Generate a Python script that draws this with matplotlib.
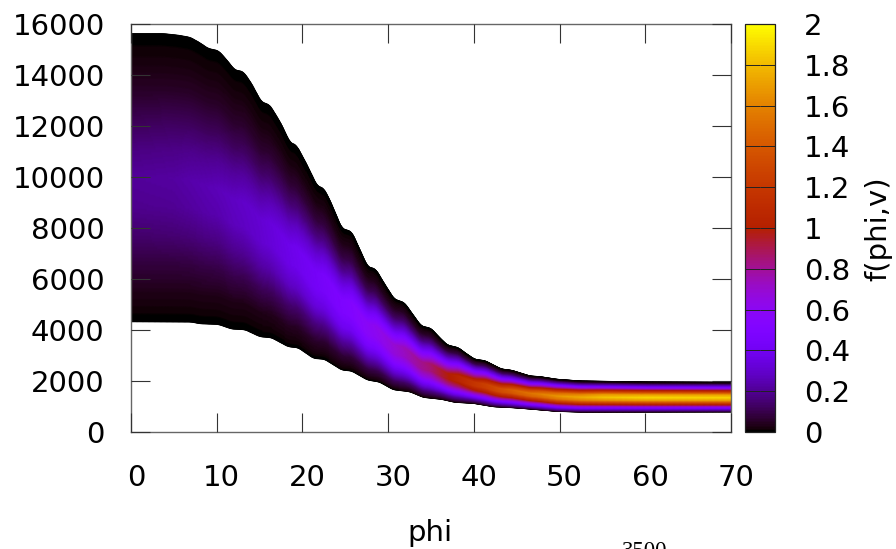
import numpy as np
import matplotlib
matplotlib.use("Agg")
import matplotlib.pyplot as plt
from matplotlib.transforms import ScaledTranslation
from matplotlib.cm import ScalarMappable
from matplotlib.colors import Normalize

upper_phi = [0,3.8,5.5,6.9,8,9,10.2,11,12.1,13.1,14,15.2,16.2,17.5,18.55,19.3,20.5,21.7,22.5,23.2,24.6,25.75,26.5,27.6,28.55,29.5,30.7,31.9,33,33.85,35,36,36.9,38.2,39,40.1,41.3,43.2,44.4,46.55,47.7,49.7,52.4,60.2,70]
upper_v = [15620,15620,15560,15475,15270,15040,14950,14660,14200,14130,13700,12950,12820,12100,11350,11250,10500,9660,9550,9100,7985,7855,7300,6485,6390,5850,5215,5070,4550,4157,4065,3700,3410,3305,3100,2850,2795,2470,2420,2196,2170,2066,2000,1960,1950]
lower_phi = [0,7.05,8.05,10.2,11.75,13.3,15.05,16.4,18.35,19.5,21.3,22.6,24.6,25.75,27.6,29,30.6,32.55,34.1,36.25,37.8,39.95,42.3,44.6,46.55,49.7,52.4,70]
lower_v = [4325,4314,4247,4220,4040,4013,3738,3698,3345,3305,2890,2850,2431,2392,2039,1960,1660,1580,1360,1282,1165,1125,992,953,902,810,784,790]

table_phi = [0,5,10,15,20,25,30,35,40,45,50,55,60,65,70]
table_t = [0,.1,.2,.3,.4,.5,.6,.7,.8,.9,1]
f_table = [
 [0,.03,.08,.14,.19,.21,.17,.11,.055,.02,0],
 [0,.03,.08,.15,.20,.22,.18,.12,.055,.02,0],
 [0,.03,.09,.17,.24,.26,.20,.12,.055,.02,0],
 [0,.03,.11,.22,.30,.31,.23,.13,.06,.02,0],
 [0,.05,.15,.30,.39,.40,.29,.16,.07,.02,0],
 [0,.07,.21,.39,.49,.50,.36,.20,.09,.03,0],
 [0,.11,.30,.50,.64,.66,.48,.27,.12,.04,0],
 [0,.17,.42,.68,.84,.86,.63,.39,.19,.06,0],
 [0,.24,.58,.95,1.18,1.18,.90,.60,.33,.11,0],
 [0,.30,.66,1.08,1.42,1.48,1.20,.78,.42,.15,0],
 [0,.30,.70,1.16,1.56,1.70,1.50,1.06,.62,.25,0],
 [0,.30,.70,1.20,1.66,1.84,1.68,1.20,.68,.27,0],
 [0,.30,.70,1.22,1.70,1.90,1.72,1.22,.68,.28,0],
 [0,.30,.70,1.22,1.70,1.90,1.72,1.22,.68,.28,0],
 [0,.30,.70,1.22,1.70,1.90,1.72,1.22,.68,.28,0],
]
x_ticks = [0,10,20,30,40,50,60,70]
y_ticks = [0,2000,4000,6000,8000,10000,12000,14000,16000]
c_ticks = [0,.2,.4,.6,.8,1,1.2,1.4,1.6,1.8,2]
c_labels = ["0","0.2","0.4","0.6","0.8","1","1.2","1.4","1.6","1.8","2"]

W, H = 896, 549
plt.rcParams['font.family'] = 'DejaVu Sans'
fig = plt.figure(figsize=(W/100, H/100), dpi=100)
def box(l, t, r, b):
    return [l/W, 1-b/H, (r-l)/W, (b-t)/H]
ax = fig.add_axes(box(131, 24, 731, 432))

# Render the hand-read table on a dense mesh between the band's edges
tab = np.array(f_table)
pf = np.linspace(0, 70, 701)
tf = np.linspace(0, 1, 161)
by_t = np.array([np.interp(pf, table_phi, tab[:, j]) for j in range(tab.shape[1])])
F = np.array([np.interp(tf, table_t, by_t[:, i]) for i in range(len(pf))]).T
def soften(a, n=3):
    # rounds the corners of the read-off edge polyline, as in the original's smooth outline
    return np.convolve(np.pad(a, n, mode='edge'), np.ones(2*n+1)/(2*n+1), mode='valid')
up = soften(np.interp(pf, upper_phi, upper_v))
lo = soften(np.interp(pf, lower_phi, lower_v))
X = np.tile(pf, (len(tf), 1))
Y = lo + np.outer(tf, up - lo)
norm = Normalize(0, 2)
ax.pcolormesh(X, Y, F, cmap='gnuplot', norm=norm, shading='gouraud', rasterized=True)

ax.set_xlim(0, 70)
ax.set_ylim(0, 16000)
ax.set_xticks(x_ticks)
ax.set_yticks(y_ticks)
ax.set_yticklabels([str(v) for v in y_ticks])
tl = 19*0.72
ax.tick_params(direction='in', length=tl, width=0.8, color='#333333', top=True, right=True,
               labelsize=21, labelcolor='black')
ax.tick_params(axis='x', pad=23)
ax.tick_params(axis='y', pad=19)
off = ScaledTranslation(5/100, 0, fig.dpi_scale_trans)
for lab in ax.get_xticklabels():
    lab.set_transform(lab.get_transform() + off)
for s in ax.spines.values():
    s.set_linewidth(1.0)
    s.set_color('#666666')
ax.set_axisbelow(False)

cax = fig.add_axes(box(745, 24, 775, 432))
cb = fig.colorbar(ScalarMappable(norm=norm, cmap='gnuplot'), cax=cax)
cb.set_ticks(c_ticks)
cb.set_ticklabels(c_labels)
cax.tick_params(direction='in', length=15*0.72, width=0.7, color='#222222', left=True, right=True,
                labelsize=21, pad=21)
cb.outline.set_linewidth(0.9)
cb.outline.set_edgecolor('#222222')

fig.text(430/W, 1-533/H, "phi", fontsize=21, ha='center', va='center')
fig.text(878/W, 1-229/H, "f(phi,v)", fontsize=21, rotation=90, ha='center', va='center')
fig.text(645/W, 1-541/H, "3500", fontsize=16.5, ha='center', va='top', family='Liberation Serif')
fig.savefig("out.png", dpi=100)
